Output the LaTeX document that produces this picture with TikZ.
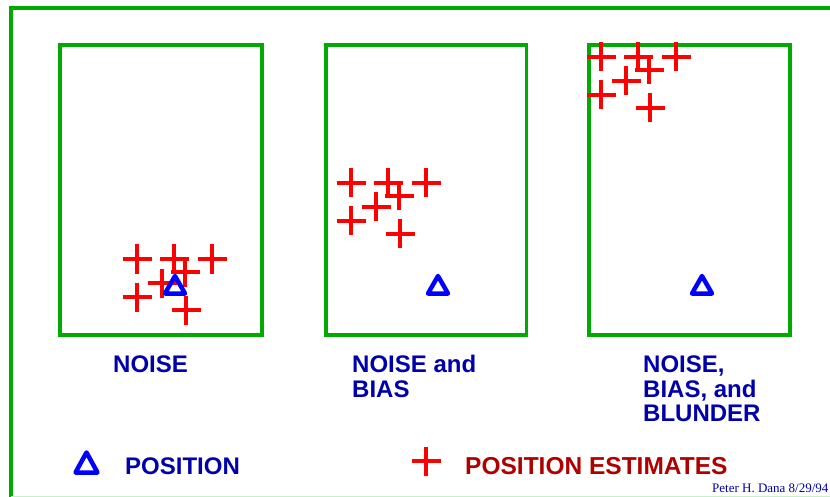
\documentclass[tikz,border=0pt]{standalone}
\usepackage{fontspec}
\setmainfont{Liberation Sans}
\newfontfamily\sigfont{Liberation Serif}
\definecolor{frameg}{RGB}{0,170,0}
\definecolor{lightg}{RGB}{200,240,200}
\definecolor{estred}{RGB}{255,0,0}
\definecolor{posblue}{RGB}{0,0,255}
\definecolor{txtblue}{RGB}{0,0,170}
\definecolor{txtred}{RGB}{175,0,0}
\newcommand\estmark[2]{\draw[estline] (#1,#2) +(-14.5,0) -- +(14.5,0) +(0,-14.5) -- +(0,14.5);}
\newcommand\posmark[2]{\draw[posline] (#1,#2) +(0,-9) -- +(10,8.5) -- +(-10,8.5) -- cycle;}
\begin{document}
\begin{tikzpicture}[x=1pt,y=-1pt,
  panel/.style={draw=frameg,line width=3.5pt},
  estline/.style={draw=estred,line width=4pt},
  posline/.style={draw=posblue,line width=4.5pt,line join=round},
  lbl/.style={inner sep=0pt,anchor=base west,text=txtblue,font=\bfseries\fontsize{24}{25}\selectfont},
  leg/.style={inner sep=0pt,anchor=base west,font=\bfseries\fontsize{24}{25}\selectfont}]
\useasboundingbox (0,0) rectangle (830,497);
% outer frame
\draw[frameg,line width=3.5pt] (11,500) -- (11,8) -- (840,8);
\draw[lightg,line width=1pt] (11,496.5) -- (830,496.5);
% panels
\draw[panel] (60,45) rectangle (262,335);
\draw[panel] (326,45) rectangle (526.5,335);
\draw[panel] (589,45) rectangle (790,335);
% estimates in each panel
\foreach \dx/\dy in {0/0,214/-76,464/-202}{
  \begin{scope}[shift={(\dx,\dy)}]
  \estmark{137}{259}
  \estmark{174}{259}
  \estmark{212}{259}
  \estmark{185}{272}
  \estmark{162}{283}
  \estmark{137}{297}
  \estmark{186}{310}
  \end{scope}}
% positions
\posmark{175}{285}
\posmark{438}{285}
\posmark{702}{285}
% labels
\node[lbl] (l1) at (113,372) {NOISE};
\node[lbl] (l2a) at (352,372) {NOISE and};
\node[lbl] (l2b) at (352,397) {BIAS};
\node[lbl] (l3a) at (643,372) {NOISE,};
\node[lbl] (l3b) at (643,397) {BIAS, and};
\node[lbl] (l3c) at (643,421) {BLUNDER};
% legend
\draw[posline] (86.5,452.5) -- (97.5,472.5) -- (75.5,472.5) -- cycle;
\node[leg,text=txtblue] (lp) at (125,474) {POSITION};
\estmark{426}{461}
\node[leg,text=txtred,font=\bfseries\fontsize{24.5}{25}\selectfont] (le) at (465,474) {POSITION ESTIMATES};
\node[inner sep=0pt,anchor=base west,text=txtblue,font=\sigfont\fontsize{13}{14}\selectfont] (sig) at (712,492) {Peter H. Dana 8/29/94};
\end{tikzpicture}
\end{document}
